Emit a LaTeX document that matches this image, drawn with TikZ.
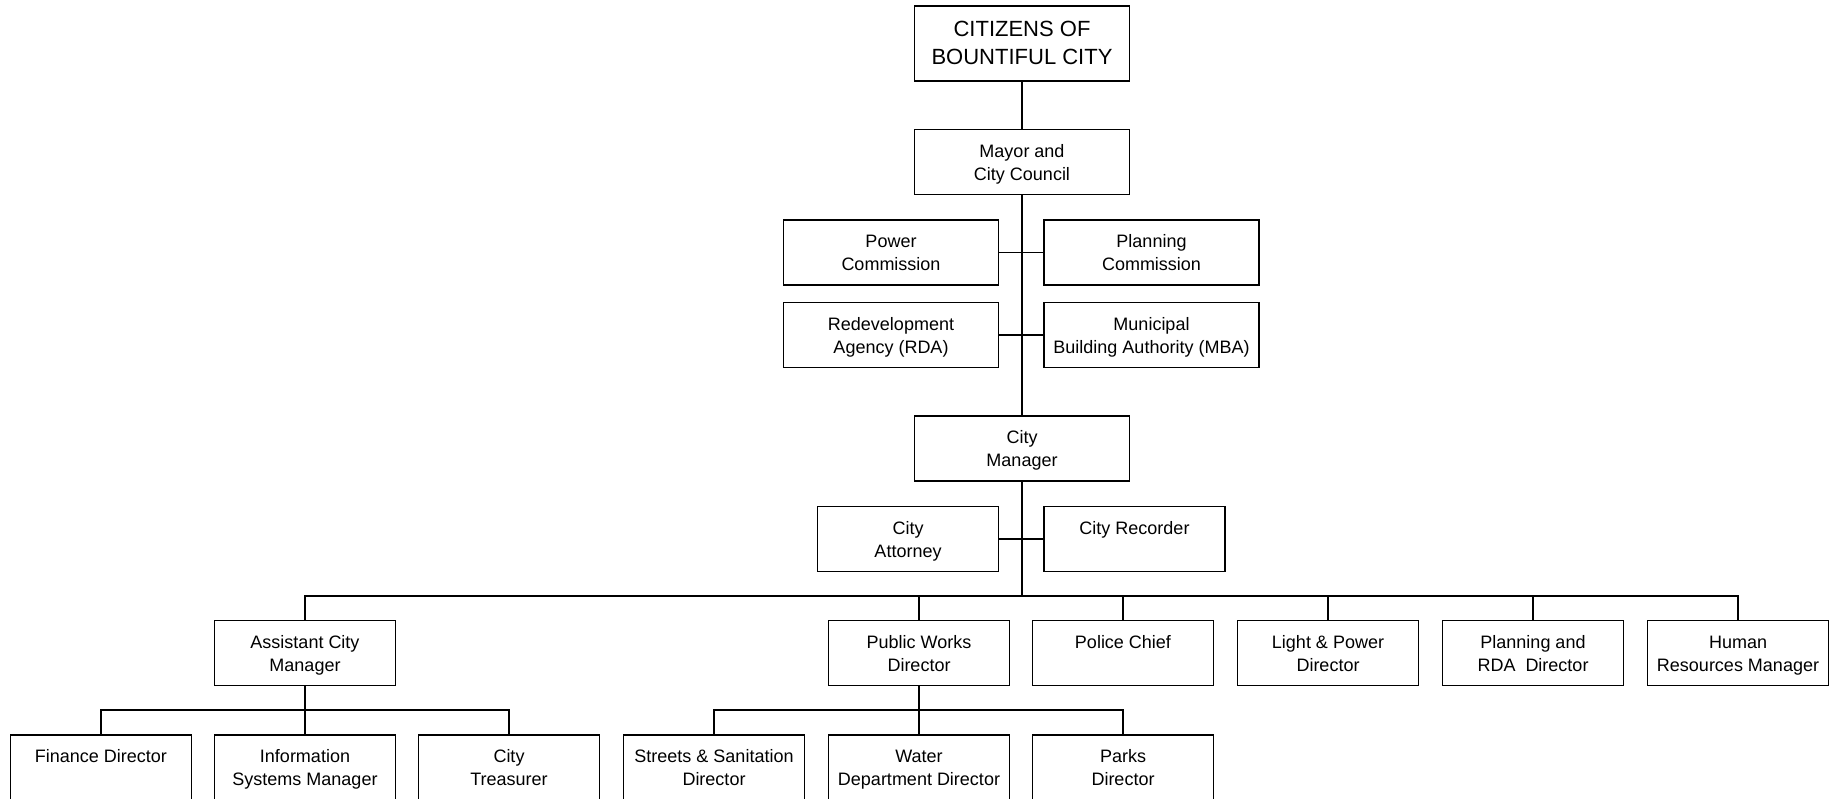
\documentclass[tikz,border=0pt]{standalone}
\usepackage{fontspec}
\setmainfont{Liberation Sans}
\usetikzlibrary{positioning}

\tikzset{
    unit/.style={draw, line width=0.9pt, align=center, inner sep=0pt,
        minimum width=90.5pt, minimum height=32.5pt,
        execute at begin node={\rule{0pt}{21.5pt}},
        execute at end node={\rule[-3.4pt]{0pt}{3.4pt}},
        font=\fontsize{9}{11.5}\selectfont},
    wideunit/.style={unit, minimum width=107.5pt},
    topunit/.style={wideunit, minimum height=37.5pt,
        execute at begin node={\rule{0pt}{25.4pt}},
        execute at end node={\rule[-4.2pt]{0pt}{4.2pt}},
        font=\fontsize{11}{14}\selectfont},
    link/.style={line width=0.9pt}
}

\begin{document}
\begin{tikzpicture}[x=0.5pt, y=-0.5pt]
    \clip (0,0) rectangle (1836,798);

    % Council level
    \node[topunit] (citizens) at (1022,43.5) {CITIZENS OF\\BOUNTIFUL CITY};
    \node[wideunit] (mayor) at (1022,162) {Mayor and\\City Council};

    % Boards and commissions
    \node[wideunit] (power)    at (891,252.5)    {Power\\Commission};
    \node[wideunit] (planning) at (1151.5,252.5) {Planning\\Commission};
    \node[wideunit] (rda)      at (891,335)      {Redevelopment\\Agency (RDA)};
    \node[wideunit] (mba)      at (1151.5,335)   {Municipal\\Building Authority (MBA)};

    % City manager and staff
    \node[wideunit] (manager)  at (1022,448.5) {City\\Manager};
    \node[unit] (attorney) at (908,539)    {City\\Attorney};
    \node[unit] (recorder) at (1134.5,539) {City Recorder\\ \mbox{}};

    % Departments
    \node[unit] (acm)     at (305,653)  {Assistant City\\Manager};
    \node[unit] (pw)      at (919,653)  {Public Works\\Director};
    \node[unit] (police)  at (1123,653) {Police Chief\\ \mbox{}};
    \node[unit] (light)   at (1328,653) {Light \& Power\\Director};
    \node[unit] (planrda) at (1533,653) {Planning and\\RDA\ \ Director};
    \node[unit] (hr)      at (1738,653) {Human\\Resources Manager};

    % Divisions (cut off at the bottom)
    \node[unit] (finance)   at (101,767.5)  {Finance Director\\ \mbox{}};
    \node[unit] (infosys)   at (305,767.5)  {Information\\Systems Manager};
    \node[unit] (treasurer) at (509,767.5)  {City\\Treasurer};
    \node[unit] (streets)   at (714,767.5)  {Streets \& Sanitation\\Director};
    \node[unit] (water)     at (919,767.5)  {Water\\Department Director};
    \node[unit] (parks)     at (1123,767.5) {Parks\\Director};

    % Bus levels
    \coordinate (bus)   at (1022,596);
    \coordinate (acmbus) at (305,710);
    \coordinate (pwbus)  at (919,710);

    % Connectors
    \draw[link] (citizens) -- (mayor);
    \draw[link] (mayor) -- (manager);
    \draw[link] (power) -- (planning);
    \draw[link] (rda) -- (mba);
    \draw[link] (manager) -- (bus);
    \draw[link] (attorney) -- (recorder);

    \draw[link] (acm.north) |- (hr.north |- bus) -- (hr.north);
    \foreach \d in {pw,police,light,planrda}
        \draw[link] (\d.north) -- (\d.north |- bus);

    \draw[link] (acm) -- (infosys);
    \draw[link] (finance.north) |- (treasurer.north |- acmbus) -- (treasurer.north);
    \draw[link] (pw) -- (water);
    \draw[link] (streets.north) |- (parks.north |- pwbus) -- (parks.north);
\end{tikzpicture}
\end{document}
